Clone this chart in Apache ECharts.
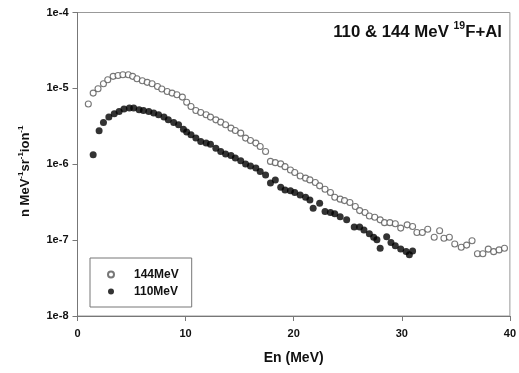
<!DOCTYPE html>
<html>
<head>
<meta charset="utf-8">
<script src="https://cdn.jsdelivr.net/npm/echarts@6/dist/echarts.min.js"></script>
<style>
html,body{margin:0;padding:0;background:#fff;}
#chart{width:519px;height:373px;}
</style>
</head>
<body>
<div id="chart"></div>
<script>
// 144 MeV series (open circles)
const energy144 = [1.0,1.45,1.9,2.4,2.8,3.3,3.75,4.2,4.7,5.1,5.5,6.0,6.45,6.9,7.4,7.8,8.3,8.75,9.2,9.7,
  10.1,10.5,10.95,11.4,11.9,12.3,12.8,13.25,13.7,14.2,14.6,15.1,15.55,16.0,16.5,16.9,17.4,17.85,18.3,18.8,
  19.2,19.7,20.1,20.6,21.1,21.5,22.0,22.4,22.9,23.4,23.8,24.3,24.7,25.2,25.7,26.1,26.6,27.0,27.5,28.0,
  28.4,28.9,29.4,29.9,30.5,31.0,31.4,31.9,32.4,33.0,33.5,33.9,34.4,34.9,35.5,36.0,36.5,37.0,37.5,38.0,
  38.5,39.0,39.5];
const flux144 = [6.21e-6,8.67e-6,9.9e-6,1.15e-5,1.30e-5,1.44e-5,1.48e-5,1.51e-5,1.51e-5,1.44e-5,1.34e-5,1.26e-5,1.20e-5,1.15e-5,1.06e-5,9.8e-6,9.1e-6,8.67e-6,8.24e-6,7.67e-6,
  6.56e-6,5.77e-6,5.1e-6,4.81e-6,4.49e-6,4.18e-6,3.85e-6,3.59e-6,3.31e-6,2.99e-6,2.79e-6,2.57e-6,2.21e-6,2.06e-6,1.90e-6,1.71e-6,1.47e-6,1.09e-6,1.05e-6,1.01e-6,
  9.3e-7,8.4e-7,7.8e-7,7.0e-7,6.56e-7,6.22e-7,5.74e-7,5.19e-7,4.69e-7,4.24e-7,3.68e-7,3.47e-7,3.32e-7,3.13e-7,2.77e-7,2.45e-7,2.31e-7,2.08e-7,2.00e-7,1.85e-7,
  1.70e-7,1.70e-7,1.64e-7,1.44e-7,1.59e-7,1.51e-7,1.26e-7,1.26e-7,1.39e-7,1.09e-7,1.33e-7,1.06e-7,1.09e-7,8.9e-8,8.05e-8,8.6e-8,9.8e-8,6.6e-8,6.6e-8,7.6e-8,
  7.05e-8,7.43e-8,7.8e-8];

// 110 MeV series (filled circles)
const energy110 = [1.45,2.0,2.4,2.9,3.4,3.85,4.3,4.8,5.2,5.7,6.1,6.6,7.05,7.5,8.0,8.4,8.9,9.35,9.8,10.1,
  10.5,10.95,11.4,11.9,12.3,12.8,13.25,13.7,14.2,14.6,15.1,15.55,16.0,16.5,16.9,17.4,17.85,18.3,18.8,19.2,
  19.7,20.1,20.6,21.1,21.5,21.8,22.4,22.9,23.4,23.8,24.3,24.9,25.6,26.1,26.5,27.0,27.4,27.7,28.0,28.6,
  29.0,29.4,29.9,30.4,30.7,31.0];
const flux110 = [1.33e-6,2.76e-6,3.55e-6,4.18e-6,4.62e-6,4.95e-6,5.33e-6,5.50e-6,5.50e-6,5.22e-6,5.10e-6,4.95e-6,4.72e-6,4.49e-6,4.18e-6,3.85e-6,3.55e-6,3.31e-6,2.90e-6,2.67e-6,
  2.44e-6,2.21e-6,2.0e-6,1.90e-6,1.84e-6,1.63e-6,1.47e-6,1.37e-6,1.30e-6,1.21e-6,1.11e-6,1.01e-6,9.5e-7,8.9e-7,8.0e-7,7.24e-7,5.64e-7,6.22e-7,4.99e-7,4.59e-7,
  4.46e-7,4.24e-7,3.94e-7,3.68e-7,3.39e-7,2.64e-7,3.07e-7,2.38e-7,2.31e-7,2.22e-7,2.04e-7,1.85e-7,1.49e-7,1.49e-7,1.36e-7,1.21e-7,1.09e-7,1.01e-7,7.8e-8,1.11e-7,
  9.3e-8,8.4e-8,7.65e-8,7.1e-8,6.4e-8,7.2e-8];

const seriesNames = ['144MeV','110MeV'];
const xTickLabels = ['0','10','20','30','40'];
const yTickLabels = ['1e-8','1e-7','1e-6','1e-5','1e-4'];

const data144 = energy144.map((e,i)=>[e, flux144[i]]);
const data110 = energy110.map((e,i)=>[e, flux110[i]]);

const FONT = '"Liberation Sans", Arial, sans-serif';
const chart = echarts.init(document.getElementById('chart'), null, {renderer:'canvas'});
chart.setOption({
  animation:false,
  backgroundColor:'#fff',
  textStyle:{fontFamily:FONT},
  title:{
    right:12, top:16,
    text:'{b|110 & 144 MeV }{s|19}{b|F+Al}',
    textStyle:{
      rich:{
        b:{fontFamily:FONT,fontWeight:'bold',fontSize:16.8,color:'#111',lineHeight:20,verticalAlign:'bottom'},
        s:{fontFamily:FONT,fontWeight:'bold',fontSize:10.5,color:'#111',lineHeight:20,verticalAlign:'top'}
      }
    }
  },
  grid:{left:77.5,right:6.5,top:12.5,bottom:57,show:true,borderColor:'#999',borderWidth:1,backgroundColor:'transparent'},
  legend:{
    left:90, top:258, orient:'vertical',
    data:seriesNames,
    itemWidth:36, itemHeight:6, itemGap:4,
    padding:[10,13,9,17],
    borderColor:'#777', borderWidth:1,
    textStyle:{fontFamily:FONT,fontWeight:'bold',fontSize:12,color:'#111',lineHeight:13}
  },
  xAxis:{
    type:'value', min:0, max:40, interval:10,
    name:'En (MeV)', nameLocation:'middle', nameGap:35,
    nameTextStyle:{fontFamily:FONT,fontWeight:'bold',fontSize:14,color:'#111'},
    axisLine:{show:true,onZero:false,lineStyle:{color:'#777',width:1}},
    axisTick:{show:true,inside:false,length:5,lineStyle:{color:'#777'}},
    axisLabel:{margin:12,fontFamily:FONT,fontWeight:'bold',fontSize:11,color:'#111',
      formatter:(v)=>xTickLabels[Math.round(v/10)]},
    splitLine:{show:false}
  },
  yAxis:{
    type:'log', logBase:10, min:1e-8, max:1e-4,
    name:'n MeV{s|-1}sr{s|-1}ion{s|-1}', nameLocation:'middle', nameGap:44, nameRotate:90,
    nameTextStyle:{fontFamily:FONT,fontWeight:'bold',fontSize:13,color:'#111',padding:[0,14,0,0],
      rich:{s:{fontFamily:FONT,fontWeight:'bold',fontSize:8,color:'#111',verticalAlign:'top',lineHeight:17}}},
    axisLine:{show:true,lineStyle:{color:'#777',width:1}},
    axisTick:{show:true,inside:false,length:5,lineStyle:{color:'#777'}},
    minorTick:{show:false},
    axisLabel:{margin:9,fontFamily:FONT,fontWeight:'bold',fontSize:11,color:'#111',
      formatter:(v)=>yTickLabels[Math.round(Math.log10(v))+8]},
    splitLine:{show:false}
  },
  series:[
    {name:seriesNames[0], type:'scatter', data:data144, symbol:'circle', symbolSize:6,
     itemStyle:{color:'#fff',borderColor:'#555',borderWidth:1.1}},
    {name:seriesNames[1], type:'scatter', data:data110, symbol:'circle', symbolSize:7,
     itemStyle:{color:'#000',borderColor:'#000',borderWidth:0}}
  ]
});
</script>
</body>
</html>
